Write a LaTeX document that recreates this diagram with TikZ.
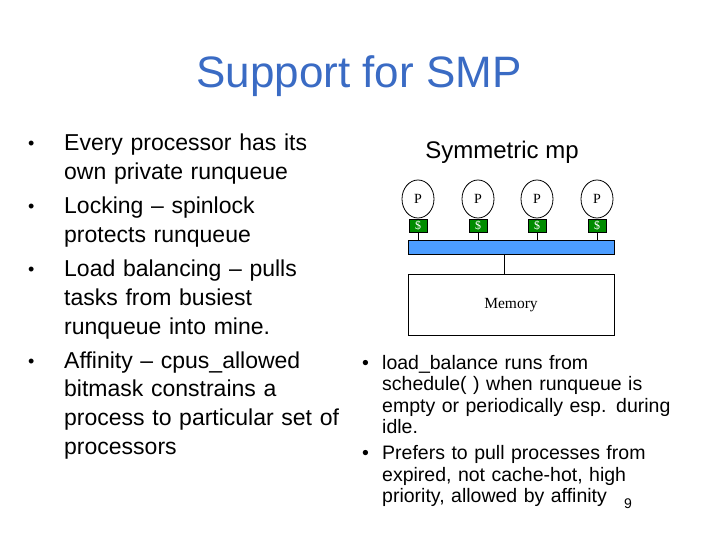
\documentclass[tikz,border=0pt]{standalone}
\usepackage{fontspec}
\usetikzlibrary{shapes.geometric}
\setmainfont{Liberation Sans}
\newfontfamily\serif{Liberation Serif}
\newcommand{\lbul}{\makebox[36pt][l]{\raisebox{1pt}{\fontsize{18}{18}\selectfont•}}}
\begin{document}
\begin{tikzpicture}[x=1pt,y=-1pt,
 proc/.style={draw,thick,ellipse,minimum width=32pt,minimum height=38pt,inner sep=0pt,font=\serif\fontsize{14}{14}\selectfont},
 cache/.style={draw,fill=green!55!black,minimum width=18pt,minimum height=13pt,inner sep=0pt,text=white,font=\serif\fontsize{12}{12}\selectfont},
 bul/.style={anchor=north west,align=left,inner sep=0pt}]
\useasboundingbox (0,0) rectangle (720,540);
\node (title) at (359,76) {\fontsize{44}{44}\selectfont\color[HTML]{3A6BC4}Support for SMP};
\node[bul,text width=330pt,font=\fontsize{23}{28.7}\selectfont] (left) at (28,134) {%
\lbul Every processor has its\\\hspace*{36pt}own private runqueue\\[5.5pt]
\lbul Locking -- spinlock\\\hspace*{36pt}protects runqueue\\[5.5pt]
\lbul Load balancing -- pulls\\\hspace*{36pt}tasks from busiest\\\hspace*{36pt}runqueue into mine.\\[5.5pt]
\lbul Affinity -- cpus\_allowed\\\hspace*{36pt}bitmask constrains a\\\hspace*{36pt}process to particular set of\\\hspace*{36pt}processors};
\node (sym) at (502,152) {\fontsize{24}{24}\selectfont Symmetric mp};
\foreach \i/\x in {1/418,2/478,3/537,4/597}{
 \node[proc] (p\i) at (\x,199) {P};
 \node[cache,anchor=north] (c\i) at (\x,219) {\$};
}
\node[draw,thick,fill=blue!55!cyan!70!white,minimum width=206pt,minimum height=14pt,inner sep=0pt] (bus) at (511,247) {};
\node[draw,thick,minimum width=206pt,minimum height=61pt,inner sep=0pt,font=\serif\fontsize{15.5}{15.5}\selectfont] (mem) at (511,305) {Memory};
\foreach \i in {1,...,4}{\draw[thick] (c\i.south) -- (c\i.south |- bus.north);}
\draw[thick] (bus.south -| 504,0) -- (mem.north -| 504,0);
\node[bul,text width=330pt,font=\fontsize{19.5}{21.5}\selectfont] (right) at (362,355) {%
\makebox[20pt][l]{•}load\_balance runs from\\\hspace*{20pt}schedule( ) when runqueue is\\\hspace*{20pt}empty or periodically esp. during\\\hspace*{20pt}idle.\\[4.5pt]
\makebox[20pt][l]{•}Prefers to pull processes from\\\hspace*{20pt}expired, not cache-hot, high\\\hspace*{20pt}priority, allowed by affinity};
\node (num) at (628,504) {\fontsize{14}{14}\selectfont 9};
\end{tikzpicture}
\end{document}
